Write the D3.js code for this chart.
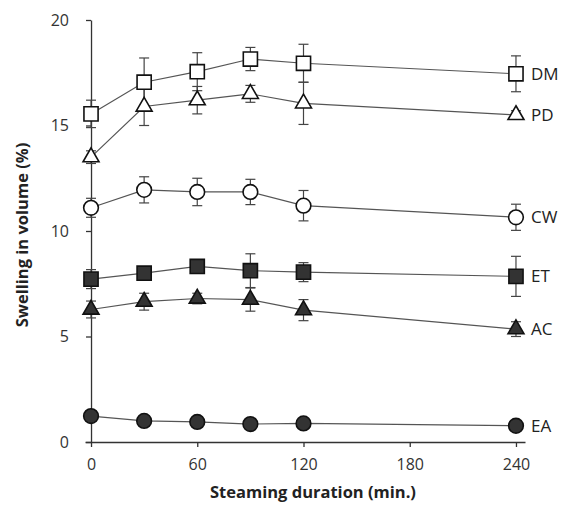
<!DOCTYPE html>
<html>
<head>
<meta charset="utf-8">
<script src="https://cdn.jsdelivr.net/npm/d3@7"></script>
<style>
  body { margin: 0; background: #fff; }
  svg text { font-family: "Open Sans", "DejaVu Sans", sans-serif; fill: #222; }
  .axis path, .axis line { stroke: #333; stroke-width: 1.3px; }
  .axis text { font-size: 16px; fill: #333; }
  .axisText { font-size: 16.5px; font-weight: bold; }
  .seriesLabel { font-size: 17px; }
</style>
</head>
<body>
<div id="chart"></div>
<script>
// Steaming time (min.)
var minutes = [0, 30, 60, 90, 120, 240];

// Swelling in volume (%) and error per treatment
var dmValues = [15.55, 17.05, 17.55, 18.15, 17.95, 17.45];
var dmErrors = [0.65, 1.15, 0.9, 0.55, 0.9, 0.85];
var pdValues = [13.5, 15.9, 16.2, 16.5, 16.05, 15.5];
var pdErrors = [0.3, 0.9, 0.65, 0.4, 1.0, 0.2];
var cwValues = [11.1, 11.95, 11.85, 11.85, 11.2, 10.65];
var cwErrors = [0.45, 0.62, 0.65, 0.6, 0.72, 0.62];
var etValues = [7.72, 8.0, 8.32, 8.12, 8.05, 7.85];
var etErrors = [0.45, 0.3, 0.3, 0.8, 0.45, 0.95];
var acValues = [6.28, 6.65, 6.8, 6.75, 6.25, 5.35];
var acErrors = [0.4, 0.4, 0.25, 0.55, 0.5, 0.35];
var eaValues = [1.23, 1.0, 0.95, 0.85, 0.88, 0.77];
var eaErrors = [0, 0, 0, 0, 0, 0];

var xTicks = [0, 60, 120, 180, 240];
var yTicks = [0, 5, 10, 15, 20];

var series = [
  { name: "DM", values: dmValues, errors: dmErrors, shape: "square", fill: "#fff" },
  { name: "PD", values: pdValues, errors: pdErrors, shape: "triangle", fill: "#fff" },
  { name: "CW", values: cwValues, errors: cwErrors, shape: "circle", fill: "#fff" },
  { name: "ET", values: etValues, errors: etErrors, shape: "square", fill: "#333" },
  { name: "AC", values: acValues, errors: acErrors, shape: "triangle", fill: "#333" },
  { name: "EA", values: eaValues, errors: eaErrors, shape: "circle", fill: "#333" }
];

var svgWidth = 563;
var svgHeight = 518;

var svg = d3.select("#chart")
  .append("svg")
  .attr("width", svgWidth)
  .attr("height", svgHeight);

// x axis line runs a bit past both ends of the data
var xScale = d3.scaleLinear().domain([-3.4, 245.1]).range([85, 525]);
var yScale = d3.scaleLinear().domain([0, 20]).range([442, 20]);

var bottomAxis = d3.axisBottom(xScale).tickValues(xTicks).tickSize(5).tickSizeOuter(0).tickPadding(12);
var leftAxis = d3.axisLeft(yScale).tickValues(yTicks).tickSize(5).tickSizeOuter(0).tickPadding(17);

svg.append("g")
  .attr("class", "axis")
  .attr("transform", "translate(0," + yScale(0) + ")")
  .call(bottomAxis);

svg.append("g")
  .attr("class", "axis")
  .attr("transform", "translate(" + xScale(0) + ",0)")
  .call(leftAxis);

// lines
var line = d3.line()
  .x(function(d, i) { return xScale(minutes[i]); })
  .y(function(d) { return yScale(d); });

svg.selectAll(".seriesLine")
  .data(series)
  .enter()
  .append("path")
  .attr("class", "seriesLine")
  .attr("d", function(s) { return line(s.values); })
  .attr("fill", "none")
  .attr("stroke", "#555")
  .attr("stroke-width", 1.2);

// error bars
series.forEach(function(s) {
  var g = svg.append("g").attr("stroke", "#444").attr("stroke-width", 1.2);
  s.values.forEach(function(v, i) {
    var e = s.errors[i];
    if (!e) return;
    var cx = xScale(minutes[i]);
    var y1 = yScale(v + e), y2 = yScale(v - e);
    g.append("line").attr("x1", cx).attr("x2", cx).attr("y1", y1).attr("y2", y2);
    g.append("line").attr("x1", cx - 5).attr("x2", cx + 5).attr("y1", y1).attr("y2", y1);
    g.append("line").attr("x1", cx - 5).attr("x2", cx + 5).attr("y1", y2).attr("y2", y2);
  });
});

// markers
var symbolTypes = { square: d3.symbolSquare, triangle: d3.symbolTriangle, circle: d3.symbolCircle };
var symbolSizes = { square: 200, triangle: 110, circle: 170 };

series.forEach(function(s) {
  svg.selectAll(".pt-" + s.name)
    .data(s.values)
    .enter()
    .append("path")
    .attr("class", "pt-" + s.name)
    .attr("transform", function(d, i) {
      return "translate(" + xScale(minutes[i]) + "," + yScale(d) + ")";
    })
    .attr("d", d3.symbol().type(symbolTypes[s.shape]).size(symbolSizes[s.shape]))
    .attr("fill", s.fill)
    .attr("stroke", "#111")
    .attr("stroke-width", 1.6);
});

// series labels on the right
svg.selectAll(".seriesLabel")
  .data(series)
  .enter()
  .append("text")
  .attr("class", "seriesLabel")
  .attr("x", xScale(240) + 15)
  .attr("y", function(s) { return yScale(s.values[s.values.length - 1]); })
  .attr("dy", "0.36em")
  .text(function(s) { return s.name; });

// axis titles
svg.append("text")
  .attr("class", "axisText")
  .attr("transform", "translate(28,235) rotate(-90)")
  .attr("text-anchor", "middle")
  .text("Swelling in volume (%)");

svg.append("text")
  .attr("class", "axisText")
  .attr("x", 313)
  .attr("y", 498)
  .attr("text-anchor", "middle")
  .text("Steaming duration (min.)");
</script>
</body>
</html>
